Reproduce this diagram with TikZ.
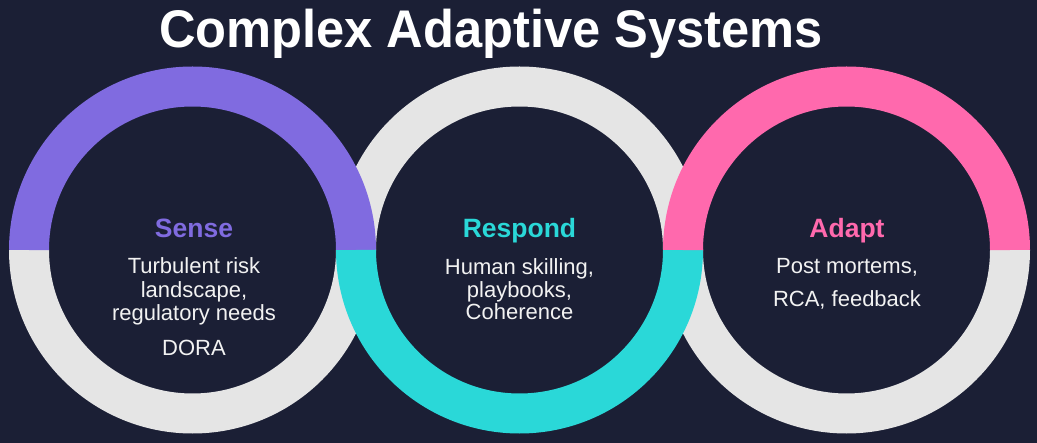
\documentclass[tikz,border=0pt]{standalone}
\usepackage{fontspec}
\usepackage{graphicx}
\setmainfont{Liberation Sans}
\definecolor{bg}{HTML}{1B1F35}
\definecolor{ringgray}{HTML}{E5E5E5}
\definecolor{purp}{HTML}{806BE0}
\definecolor{teal}{HTML}{2AD8D8}
\definecolor{pink}{HTML}{FF69AD}
\definecolor{bodytxt}{HTML}{F2F2F2}
\tikzset{
  band/.style={line width=40pt, line cap=butt},
  head/.style={anchor=base, inner sep=0pt, font=\fontsize{26.5}{28}\selectfont\bfseries},
  bodyline/.style={anchor=base, inner sep=0pt, text=bodytxt, font=\fontsize{22}{24}\selectfont},
}
\begin{document}
\begin{tikzpicture}[x=1pt,y=-1pt]
\useasboundingbox (0,0) rectangle (1037,443);
\fill[bg] (0,0) rectangle (1037,443);
% gray halves (behind)
\draw[band, ringgray] (29,250) arc[start angle=180, end angle=0, radius=163.5];
\draw[band, ringgray] (356,250) arc[start angle=180, end angle=360, radius=163.5];
\draw[band, ringgray] (683,250) arc[start angle=180, end angle=0, radius=163.5];
% coloured halves (front)
\draw[band, purp] (29,250) arc[start angle=180, end angle=360, radius=163.5];
\draw[band, teal] (356,250) arc[start angle=180, end angle=0, radius=163.5];
\draw[band, pink] (683,250) arc[start angle=180, end angle=360, radius=163.5];
% title
\node[anchor=base, inner sep=0pt, text=white, font=\fontsize{53}{56}\selectfont\bfseries] (title) at (491,48) {\scalebox{0.955}[1]{Complex Adaptive Systems}};
% left
\node[head, text=purp] (sense) at (194,238) {Sense};
\node[bodyline] (s1) at (194,274) {Turbulent risk};
\node[bodyline] (s2) at (194,298) {landscape,};
\node[bodyline] (s3) at (194,321) {regulatory needs};
\node[bodyline] (s4) at (194,356) {DORA};
% middle
\node[head, text=teal] (respond) at (519.5,238) {Respond};
\node[bodyline] (r1) at (519.5,275) {Human skilling,};
\node[bodyline] (r2) at (519.5,298) {playbooks,};
\node[bodyline] (r3) at (519.5,320) {Coherence};
% right
\node[head, text=pink] (adapt) at (847,238) {Adapt};
\node[bodyline] (a1) at (847,274) {Post mortems,};
\node[bodyline] (a2) at (847,307) {RCA, feedback};
\end{tikzpicture}
\end{document}
